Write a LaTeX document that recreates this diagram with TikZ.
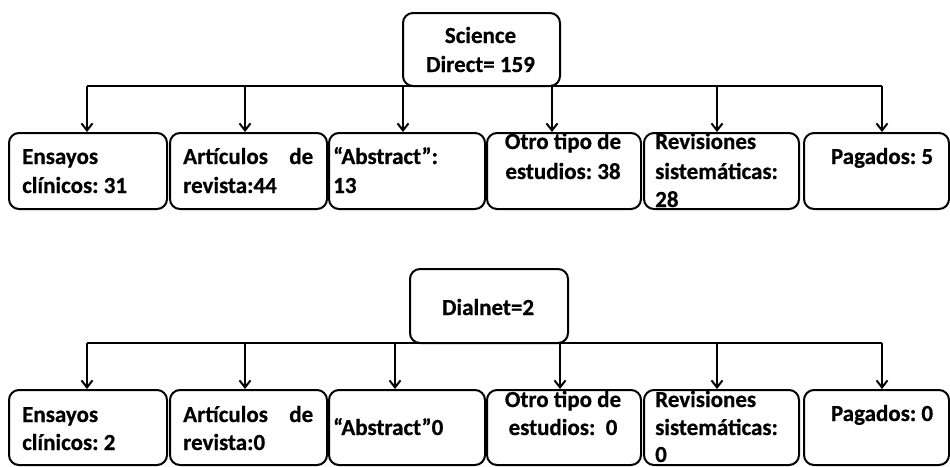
\documentclass[tikz,border=0pt]{standalone}
\usepackage{fontspec}
\setmainfont{Carlito}[BoldFeatures={FakeBold=0.6}]
\usetikzlibrary{arrows.meta}
\frenchspacing
\tikzset{
  box/.style={draw=black, line width=2pt, rounded corners=10pt, fill=white},
  bus/.style={draw=black, line width=2pt},
  arr/.style={draw=black, line width=2pt, -{Straight Barb[length=7pt,width=11pt,line width=2pt]}},
  lbl/.style={inner sep=0pt, anchor=base west, font=\fontsize{23}{28}\selectfont\bfseries\frenchspacing},
  clbl/.style={inner sep=0pt, anchor=base, font=\fontsize{23}{28}\selectfont\bfseries\frenchspacing},
}
\begin{document}
\begin{tikzpicture}[x=1pt,y=-1pt]
\useasboundingbox (0,0) rectangle (950,466);
% ---------- Science Direct ----------
\node[box, minimum width=157pt, minimum height=73pt, anchor=north west] (sd) at (402,12) {};
\node[clbl] (sdt1) at (480.5,43) {Science};
\node[clbl] (sdt2) at (480.5,72) {Direct= 159};
% bus
\coordinate (busL1) at (87,86);
\coordinate (busR1) at (882,86);
\draw[bus] (busL1) -- (busR1);
% children row 1
\node[box, minimum width=158pt, minimum height=76pt, anchor=north west] (a1) at (8,132) {};
\node[box, minimum width=157pt, minimum height=76pt, anchor=north west] (a2) at (169,132) {};
\node[box, minimum width=156pt, minimum height=76pt, anchor=north west] (a3) at (328,132) {};
\node[box, minimum width=154pt, minimum height=76pt, anchor=north west] (a4) at (486,132) {};
\node[box, minimum width=155pt, minimum height=76pt, anchor=north west] (a5) at (643,132) {};
\node[box, minimum width=145pt, minimum height=76pt, anchor=north west] (a6) at (803,132) {};
\draw[arr] (busL1) -- (a1.north -| busL1);
\draw[arr] (245,86) coordinate (c2) -- (c2 |- a2.north);
\draw[arr] (403,86) coordinate (c3) -- (c3 |- a3.north);
\draw[arr] (552,86) coordinate (c4) -- (c4 |- a4.north);
\draw[arr] (717,86) coordinate (c5) -- (c5 |- a5.north);
\draw[arr] (busR1) -- (busR1 |- a6.north);
% texts row 1
\node[lbl] (t11) at (22,164) {Ensayos};
\node[lbl] (t12) at (22,193) {clínicos: 31};
\node[lbl, text width=130pt] (t21) at (183,164) {Artículos\hfill de};
\node[lbl] (t22) at (183,193) {revista:44};
\node[lbl] (t31) at (333,164) {“Abstract”:};
\node[lbl] (t32) at (333,193) {13};
\node[clbl] (t41) at (563,149) {Otro tipo de};
\node[clbl] (t42) at (563,179) {estudios: 38};
\node[lbl] (t51) at (655,149) {Revisiones};
\node[lbl] (t52) at (655,179) {sistemáticas:};
\node[lbl] (t53) at (655,207) {28};
\node[clbl] (t61) at (882,164) {Pagados: 5};
% ---------- Dialnet ----------
\node[box, minimum width=158pt, minimum height=74pt, anchor=north west] (dn) at (409,268) {};
\node[clbl] (dnt) at (488,315) {Dialnet=2};
\coordinate (busL2) at (87,343);
\coordinate (busR2) at (882,343);
\draw[bus] (busL2) -- (busR2);
\node[box, minimum width=158pt, minimum height=75pt, anchor=north west] (b1) at (8,389) {};
\node[box, minimum width=157pt, minimum height=75pt, anchor=north west] (b2) at (169,389) {};
\node[box, minimum width=156pt, minimum height=75pt, anchor=north west] (b3) at (328,389) {};
\node[box, minimum width=154pt, minimum height=75pt, anchor=north west] (b4) at (486,389) {};
\node[box, minimum width=155pt, minimum height=75pt, anchor=north west] (b5) at (643,389) {};
\node[box, minimum width=145pt, minimum height=75pt, anchor=north west] (b6) at (803,389) {};
\draw[arr] (busL2) -- (busL2 |- b1.north);
\draw[arr] (245,343) coordinate (d2) -- (d2 |- b2.north);
\draw[arr] (395,343) coordinate (d3) -- (d3 |- b3.north);
\draw[arr] (560,343) coordinate (d4) -- (d4 |- b4.north);
\draw[arr] (717,343) coordinate (d5) -- (d5 |- b5.north);
\draw[arr] (busR2) -- (busR2 |- b6.north);
% texts row 2
\node[lbl] (u11) at (22,422) {Ensayos};
\node[lbl] (u12) at (22,450) {clínicos: 2};
\node[lbl, text width=130pt] (u21) at (183,422) {Artículos\hfill de};
\node[lbl] (u22) at (183,450) {revista:0};
\node[lbl] (u31) at (333,435) {“Abstract”0};
\node[clbl] (u41) at (563,407) {Otro tipo de};
\node[clbl] (u42) at (563,435) {estudios:\ \ 0};
\node[lbl] (u51) at (655,407) {Revisiones};
\node[lbl] (u52) at (655,435) {sistemáticas:};
\node[lbl] (u53) at (655,462) {0};
\node[clbl] (u61) at (882,421) {Pagados: 0};
\end{tikzpicture}
\end{document}
